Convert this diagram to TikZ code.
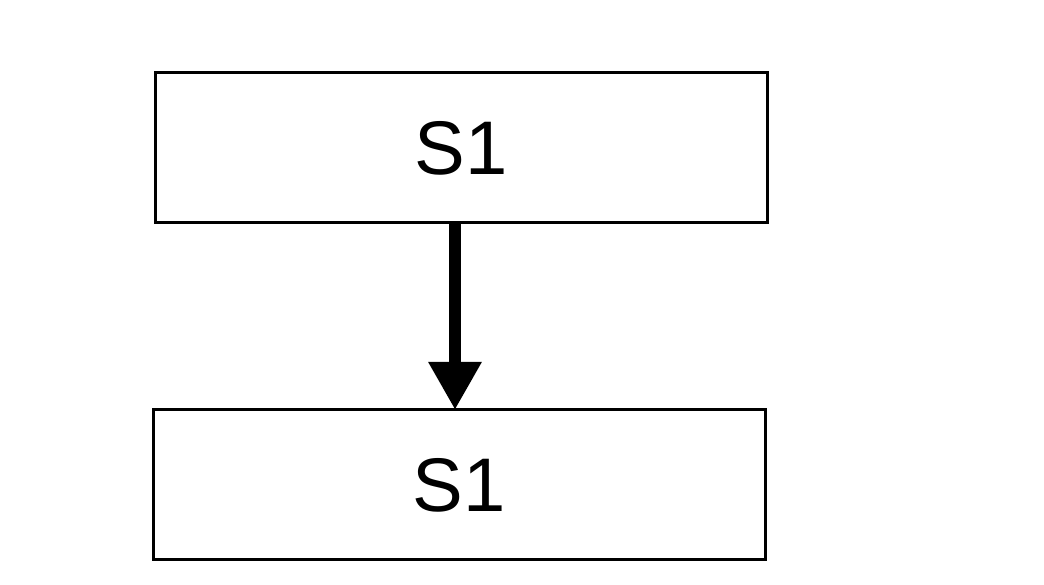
\documentclass[tikz,border=0pt]{standalone}
\usepackage{fontspec}
\setmainfont{Liberation Sans}
\usetikzlibrary{arrows.meta}
\begin{document}
\begin{tikzpicture}[x=1pt,y=1pt,
  box/.style={draw,line width=3pt,minimum width=612pt,minimum height=150pt,inner sep=0pt,font=\fontsize{76}{80}\selectfont}]
\useasboundingbox (0,0) rectangle (1044,585);
\node[box] (a) at (461,437) {S1};
\node[box] (b) at (459,100) {S1};
\draw[line width=12pt,-{Triangle[length=48pt,width=50pt]}] (a.south -| 455,0) -- (455,175);
\end{tikzpicture}
\end{document}
